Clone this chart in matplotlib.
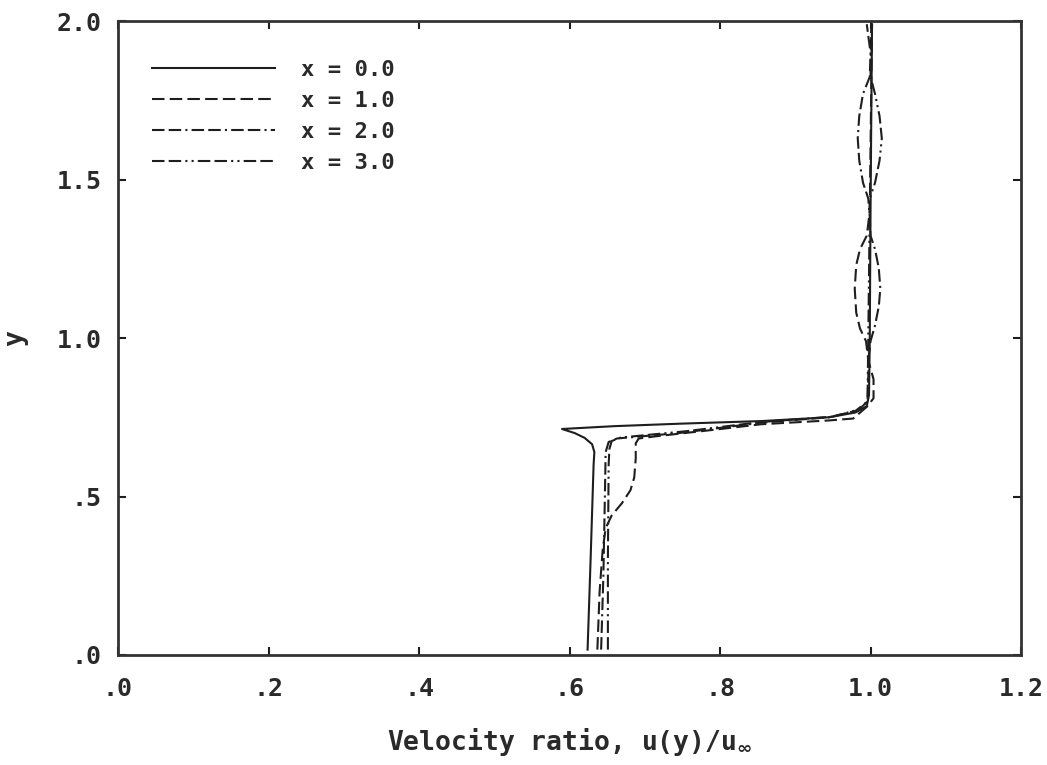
import matplotlib
matplotlib.use('Agg')
import matplotlib.pyplot as plt

# velocity profiles, u/u_inf vs y
y0 = [0.017, 0.30, 0.60, 0.64, 0.665, 0.685, 0.700, 0.713, 0.722, 0.730, 0.738, 0.750, 0.765, 0.785, 0.82, 1.00, 1.40, 1.99]
u0 = [0.624, 0.628, 0.632, 0.633, 0.630, 0.620, 0.607, 0.590, 0.660, 0.750, 0.855, 0.945, 0.980, 0.995, 0.998, 0.999, 1.000, 1.002]

y1 = [0.017, 0.20, 0.33, 0.40, 0.44, 0.48, 0.52, 0.56, 0.62, 0.668, 0.683, 0.690, 0.710, 0.728, 0.740, 0.746, 0.785, 0.81, 0.87, 0.93, 0.99,
      1.03, 1.08, 1.156, 1.23, 1.28, 1.323, 1.40, 1.60, 1.99]
u1 = [0.637, 0.640, 0.644, 0.648, 0.656, 0.670, 0.681, 0.686, 0.688, 0.688, 0.692, 0.715, 0.790, 0.855, 0.945, 0.977, 0.996, 1.004, 1.004, 0.997, 0.994,
      0.986, 0.981, 0.979, 0.981, 0.986, 0.995, 0.999, 1.000, 1.002]

y2 = [0.017, 0.25, 0.50, 0.64, 0.672, 0.683, 0.700, 0.733, 0.750, 0.770, 0.800, 0.95, 0.99,
      1.04, 1.10, 1.156, 1.22, 1.28, 1.323, 1.38, 1.44,
      1.49, 1.56, 1.63, 1.70, 1.77, 1.824, 1.90, 1.99]
u2 = [0.642, 0.645, 0.647, 0.648, 0.652, 0.663, 0.745, 0.855, 0.945, 0.980, 0.996, 0.998, 1.000,
      1.006, 1.011, 1.013, 1.011, 1.006, 1.000, 0.999, 0.997,
      0.990, 0.985, 0.983, 0.985, 0.990, 0.999, 1.000, 0.995]

y3 = [0.017, 0.30, 0.60, 0.65, 0.675, 0.686, 0.706, 0.735, 0.752, 0.775, 0.80, 1.00, 1.20, 1.44,
      1.49, 1.56, 1.63, 1.70, 1.77, 1.824, 1.99]
u3 = [0.651, 0.651, 0.652, 0.653, 0.656, 0.668, 0.755, 0.855, 0.950, 0.985, 0.996, 0.997, 0.998, 0.999,
      1.006, 1.012, 1.015, 1.012, 1.006, 1.000, 1.001]

labels = ['x = 0.0', 'x = 1.0', 'x = 2.0', 'x = 3.0']
xticks = [0.0, 0.2, 0.4, 0.6, 0.8, 1.0, 1.2]
xticklabels = ['.0', '.2', '.4', '.6', '.8', '1.0', '1.2']
yticks = [0.0, 0.5, 1.0, 1.5, 2.0]
yticklabels = ['.0', '.5', '1.0', '1.5', '2.0']

ink = '#1e1e1e'
txt = '#2a2a2a'
plt.rcParams['font.family'] = ['DejaVu Sans Mono', 'DejaVu Sans']
plt.rcParams['font.weight'] = 'bold'
plt.rcParams['mathtext.default'] = 'bf'

fig = plt.figure(figsize=(10.47, 7.65), dpi=100)
ax = fig.add_axes([0.1127, 0.1438, 0.8625, 0.8287])

styles = ['-', (0, (6, 2.5)), (0, (6, 2, 6, 2, 1, 2)), (0, (6, 2, 6, 2, 1, 2, 1, 2))]
for u, y, ls, lab in zip([u0, u1, u2, u3], [y0, y1, y2, y3], styles, labels):
    ax.plot(u, y, color=ink, lw=1.5, linestyle=ls, label=lab)

ax.set_xlim(0, 1.2)
ax.set_ylim(0, 2.0)
ax.set_xticks(xticks)
ax.set_xticklabels(xticklabels)
ax.set_yticks(yticks)
ax.set_yticklabels(yticklabels)
ax.tick_params(direction='in', length=6, width=1.5, color=ink, labelsize=18,
               labelcolor=txt, top=True, right=True)
ax.tick_params(axis='x', pad=16)
ax.tick_params(axis='y', pad=12)
for s in ax.spines.values():
    s.set_linewidth(2)
    s.set_color('#333333')

ax.set_xlabel('Velocity ratio, u(y)/u$_{\\infty}$', fontsize=19, fontweight='bold', color=txt, labelpad=18)
ax.set_ylabel('y', fontsize=19, fontweight='bold', color=txt, labelpad=20)

leg = ax.legend(loc='upper left', bbox_to_anchor=(0.038, 0.939), frameon=False,
                handlelength=5.5, handletextpad=1.2, labelspacing=0.5,
                borderpad=0, borderaxespad=0, prop={'size': 16, 'weight': 'bold'})
for t in leg.get_texts():
    t.set_color(txt)

fig.savefig('out.png', dpi=100)
